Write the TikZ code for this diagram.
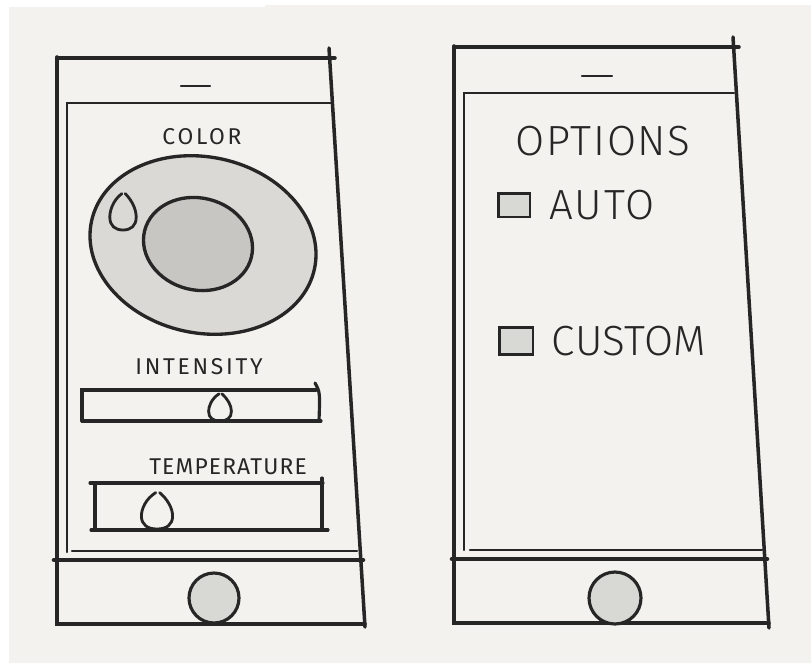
\documentclass[tikz,border=0pt]{standalone}
\usepackage{fontspec}
\usepackage{tikz}
\usetikzlibrary{positioning, calc}
\usepackage{xcolor}
\setmainfont{Fira Sans}
\newfontfamily\sketchthin{Fira Sans Light}
\definecolor{SketchPaper}{HTML}{F3F2EE}
\definecolor{SketchInk}{HTML}{262626}
\definecolor{SketchButton}{HTML}{D8D8D5}
\definecolor{SketchOuter}{HTML}{DAD9D6}
\definecolor{SketchInner}{HTML}{C7C6C3}
\tikzset{
    % Phone outline styles
    framestroke/.style={
        draw=SketchInk,
        line width=2pt,
        line cap=round
    },
    screenstroke/.style={
        draw=SketchInk,
        line width=1.4pt,
        line cap=round
    },
    homebar/.style={
        draw=SketchInk,
        line width=2.6pt,
        line cap=round
    },
    homebutton/.style={
        circle,
        draw=SketchInk,
        fill=SketchButton,
        line width=1.8pt,
        minimum size=1cm,
        inner sep=0pt
    },
    % Controls
    sliderstroke/.style={
        draw=SketchInk,
        line width=1.8pt,
        line cap=round
    },
    wheelstroke/.style={
        draw=SketchInk,
        line width=1.9pt
    },
    checkbox/.style={
        rectangle,
        draw=SketchInk,
        fill=SketchButton,
        line width=1.7pt,
        inner sep=0pt
    },
    % Text styles
    smalllabel/.style={
        text=SketchInk,
        font=\fontsize{13}{13}\selectfont\addfontfeatures{LetterSpace=12},
        inner sep=0pt
    },
    biglabel/.style={
        text=SketchInk,
        font=\sketchthin\fontsize{24}{24}\selectfont\addfontfeatures{LetterSpace=4},
        inner sep=0pt
    },
    % Slider knob
    knob/.pic={
        \draw[SketchInk, line width=1.6pt, line cap=round]
            (-1,-28) .. controls (-9,-23) and (-12,-15) .. (-12,-10)
            .. controls (-12,-3) and (-7,0) .. (0,0)
            .. controls (7,0) and (12,-3) .. (12,-10)
            .. controls (12,-16) and (8,-23) .. (2,-28);
    }
}
\begin{document}
\begin{tikzpicture}[x=0.02cm, y=-0.02cm]
    \useasboundingbox (0,0) rectangle (811,663);
    % Paper
    \fill[white] (0,0) rectangle (811,663);
    \fill[SketchPaper] (9,7) -| (265,5) -| (811,663) -| cycle;

    % Left phone: frame
    \draw[framestroke] (57,58) -- (335,58);
    \draw[framestroke] (329,48) -- (365,627);
    \draw[framestroke] (57,57) -- (57,624) -- (365,624);
    \draw[screenstroke] (181,86) -- (210,86);
    \draw[screenstroke] (331,103) -- (67,103) -- (67,552);
    \draw[screenstroke] (72,551) -- (357,551);
    \draw[homebar] (54,560) -- (363,560);
    \node[homebutton] (lbutton) at (214,598) {};

    % Left phone: colour wheel
    \node[smalllabel] (colorlbl) at (202,137) {COLOR};
    \draw[wheelstroke, fill=SketchOuter, rotate around={-12:(203,245)}]
        (203,245) ellipse [x radius=114, y radius=88];
    \draw[wheelstroke, fill=SketchInner, rotate around={-14:(198,244)}]
        (198,244) ellipse [x radius=55, y radius=46];
    \pic[xscale=1.1, yscale=1.3] at (123,230) {knob};

    % Left phone: intensity slider
    \node[smalllabel] (intenslbl) at (199,367) {INTENSITY};
    \draw[sliderstroke] (82,421) -- (82,390) -- (316,390);
    \draw[sliderstroke] (315,383) .. controls (320,392) .. (319,421);
    \draw[sliderstroke] (82,421) -- (321,421);
    \pic[xscale=0.95, yscale=0.97] at (220,421) {knob};

    % Left phone: temperature slider
    \node[smalllabel, font=\fontsize{13}{13}\selectfont\addfontfeatures{LetterSpace=5}]
        (templbl) at (228,467) {TEMPERATURE};
    \draw[sliderstroke] (90,483) -- (323,483);
    \draw[sliderstroke] (95,483) -- (95,530);
    \draw[sliderstroke] (322,478) -- (322,530);
    \draw[sliderstroke] (91,530) -- (328,530);
    \pic[xscale=1.3, yscale=1.3] at (157,529) {knob};

    % Right phone: frame
    \draw[framestroke] (454,47) -- (739,47);
    \draw[framestroke] (733,37) -- (769,628);
    \draw[framestroke] (454,46) -- (454,623) -- (769,623);
    \draw[screenstroke] (582,76) -- (612,76);
    \draw[screenstroke] (734,93) -- (464,93) -- (464,550);
    \draw[screenstroke] (470,550) -- (762,550);
    \draw[homebar] (452,559) -- (767,559);
    \node[homebutton, minimum size=1.04cm] (rbutton) at (615,598) {};

    % Right phone: options
    \node[biglabel] (optionslbl) at (603,141) {OPTIONS};
    \node[checkbox, minimum width=0.64cm, minimum height=0.48cm] (autobox) at (514,205) {};
    \node[biglabel, right=0.36cm of autobox] (autolbl) {AUTO};
    \node[checkbox, minimum width=0.68cm, minimum height=0.54cm] (custombox) at (516,341) {};
    \node[biglabel, right=0.34cm of custombox,
        font=\sketchthin\fontsize{24}{24}\selectfont\addfontfeatures{LetterSpace=1}]
        (customlbl) {CUSTOM};
\end{tikzpicture}
\end{document}
